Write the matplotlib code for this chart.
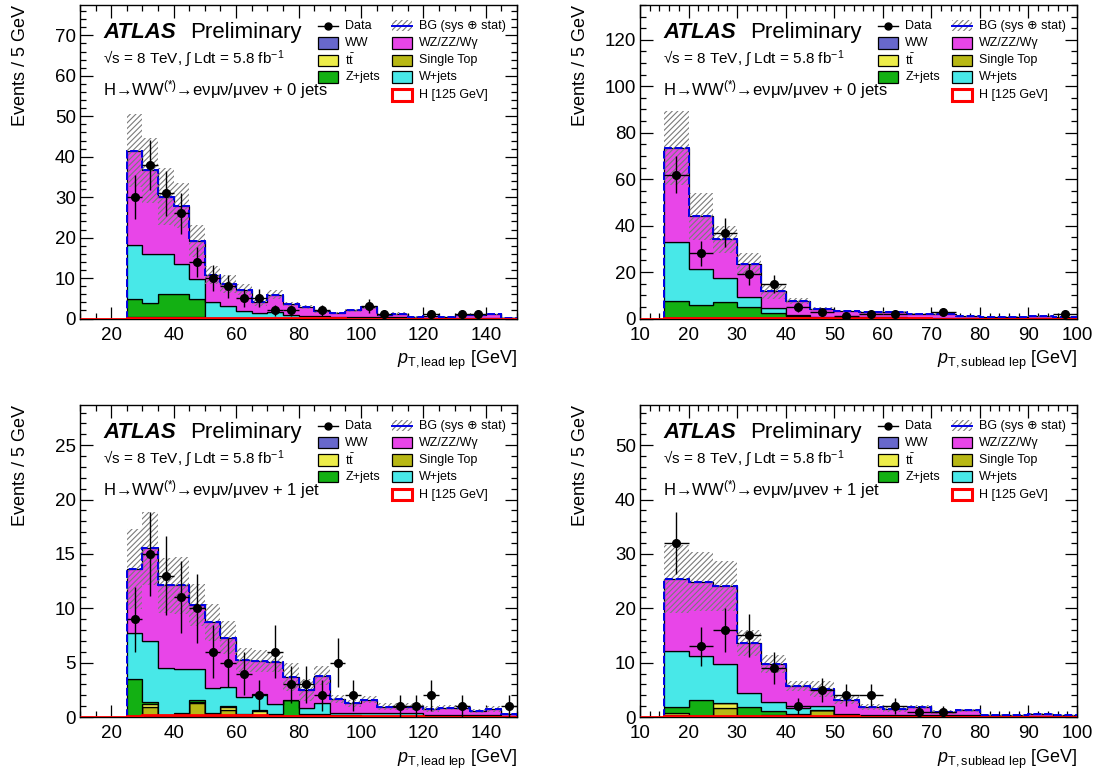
import matplotlib
matplotlib.use('Agg')
import matplotlib.pyplot as plt
import matplotlib.patches as mpatches
from matplotlib.ticker import MultipleLocator
import numpy as np

plt.rcParams['font.family'] = ['Liberation Sans', 'DejaVu Sans']
plt.rcParams['mathtext.fontset'] = 'custom'
plt.rcParams['mathtext.rm'] = 'Liberation Sans'
plt.rcParams['mathtext.it'] = 'Liberation Sans:italic'
plt.rcParams['mathtext.bf'] = 'Liberation Sans:bold'
plt.rcParams['hatch.linewidth'] = 0.8

C_WW = '#6868cc'
C_TT = '#eded4a'
C_ZJ = '#13b013'
C_ST = '#b8b815'
C_WJ = '#48e8e8'
C_WZ = '#e845e8'
C_H = '#ff0000'

# ---- binning (5 GeV) ----
edges_lead = np.arange(25, 155, 5)     # 25 bins, 25-150
edges_sub = np.arange(15, 105, 5)      # 17 bins, 15-100
hedges_lead = np.arange(10, 155, 5)    # signal drawn over full axis range
hedges_sub = np.arange(10, 105, 5)

# ---- panel 1: leading lepton pT, 0 jets ----
ww_1 = [0.1, 0.1, 0.1, 0.1, 0.1, 0.05, 0.05, 0.05, 0, 0, 0, 0, 0, 0, 0, 0, 0, 0, 0, 0, 0, 0, 0, 0, 0]
st_1 = [0.05, 0.05, 0.05, 0.05, 0.05, 0, 0, 0, 0, 0, 0, 0, 0, 0, 0, 0, 0, 0, 0, 0, 0, 0, 0, 0, 0]
tt_1 = [0.1, 0.1, 0.1, 0.1, 0.1, 0.05, 0.05, 0.05, 0.05, 0.05, 0, 0, 0, 0, 0, 0, 0, 0, 0, 0, 0, 0, 0, 0, 0]
zj_1 = [4.5, 3.6, 5.8, 5.8, 4.6, 0.1, 0.05, 0.05, 0, 0.05, 0, 0, 0, 0, 0, 0, 0, 0, 0, 0, 0, 0, 0, 0, 0]
wj_1 = [13.45, 12.05, 10.0, 7.3, 5.0, 4.0, 2.9, 1.7, 1.3, 1.5, 0.9, 0.5, 0.5, 0.4, 0.4, 0.4, 0.3, 0.3, 0.2, 0.2, 0.2, 0.2, 0.2, 0.2, 0.05]
wz_1 = [23.3, 20.7, 14.1, 14.5, 9.3, 6.6, 5.4, 5.3, 2.8, 4.3, 2.7, 2.3, 1.3, 0.9, 1.6, 2.4, 0.6, 0.9, 0.1, 0.3, 0.2, 0.6, 0.6, 0.8, 0.05]
err_1 = [9, 8, 7, 5.6, 4, 2.2, 2.2, 1.4, 1.0, 1.2, 0.6, 0.5, 0.4, 0.3, 0.4, 0.4, 0.3, 0.3, 0.2, 0.2, 0.2, 0.2, 0.2, 0.2, 0.1]
data_1 = [30, 38, 31, 26, 14, 10, 8, 5, 5, 2, 2, 0, 2, 0, 0, 3, 1, 0, 0, 1, 0, 1, 1, 0, 0]
h_1 = [0, 0, 0, 0.15, 0.15, 0.15, 0.15, 0.15, 0.1, 0.1, 0.1, 0.05, 0.05, 0.05, 0.05, 0.05, 0.05, 0, 0, 0, 0, 0, 0, 0, 0, 0, 0, 0]

# ---- panel 2: subleading lepton pT, 0 jets ----
ww_2 = [0.1, 0.1, 0.1, 0.1, 0.05, 0.05, 0, 0, 0, 0, 0, 0, 0, 0, 0, 0, 0]
st_2 = [0.05, 0.05, 0.05, 0.05, 0.05, 0, 0, 0, 0, 0, 0, 0, 0, 0, 0, 0, 0]
tt_2 = [0.1, 0.1, 0.1, 0.1, 0.05, 0.05, 0.05, 0.05, 0, 0, 0, 0, 0, 0, 0, 0, 0]
zj_2 = [7.2, 5.5, 6.7, 4.6, 2.4, 0.8, 0.2, 0.1, 0.05, 0.05, 0.05, 0, 0, 0, 0, 0, 0]
wj_2 = [25.5, 15.4, 10.4, 4.6, 2.0, 0.4, 0.6, 0.4, 0.4, 0.4, 0.3, 0.3, 0.2, 0.2, 0.2, 0.2, 0.1]
wz_2 = [40.5, 22.8, 16.8, 14.1, 7.1, 6.2, 3.4, 2.7, 2.2, 2.4, 1.8, 1.8, 0.9, 0.6, 0.6, 0.7, 0.5]
err_2 = [16, 10, 5.8, 4.7, 3.1, 1.3, 0.8, 0.6, 0.5, 0.5, 0.4, 0.4, 0.3, 0.3, 0.3, 0.3, 0.2]
data_2 = [62, 28, 37, 19, 15, 5, 3, 1, 2, 2, 0, 3, 0, 0, 0, 0, 2]
h_2 = [0, 0.15, 0.15, 0.15, 0.15, 0.1, 0.1, 0.1, 0.05, 0.05, 0.05, 0.05, 0, 0, 0, 0, 0, 0]

# ---- panel 3: leading lepton pT, 1 jet ----
ww_3 = [0.05, 0.05, 0.05, 0.05, 0.05, 0.05, 0.05, 0.05, 0, 0, 0, 0, 0, 0, 0, 0, 0, 0, 0, 0, 0, 0, 0, 0, 0]
st_3 = [0.0, 0.85, 0.0, 0.1, 1.25, 0.05, 0.55, 0.0, 0.2, 0.0, 0.05, 0.0, 0.05, 0, 0, 0, 0, 0, 0, 0, 0, 0, 0, 0, 0]
tt_3 = [0.05, 0.3, 0.05, 0.15, 0.1, 0.2, 0.3, 0.15, 0.35, 0.15, 0.05, 0.15, 0.1, 0.1, 0.1, 0.05, 0.05, 0.05, 0.05, 0.05, 0.05, 0.05, 0.05, 0.05, 0]
zj_3 = [3.4, 0.2, 0.1, 0.1, 0.15, 0.1, 0.1, 0.1, 0.1, 0.1, 1.45, 0.1, 0.1, 0.05, 0.05, 0.05, 0.05, 0.05, 0.05, 0.05, 0.05, 0.05, 0.05, 0.05, 0]
wj_3 = [4.2, 5.56, 4.3, 4.0, 2.9, 2.3, 1.8, 1.5, 1.5, 0.95, 0.0, 0.55, 1.0, 0.2, 0.2, 0.25, 0.25, 0.25, 0.25, 0.1, 0.1, 0.1, 0.1, 0.1, 0.1]
wz_3 = [5.9, 8.54, 7.6, 7.7, 5.85, 6.0, 4.5, 3.45, 3.0, 3.85, 2.1, 1.65, 2.55, 1.3, 0.9, 1.25, 0.6, 0.6, 0.6, 0.55, 0.65, 0.65, 0.35, 0.55, 0.15]
err_3 = [3.7, 3.4, 2.5, 2.6, 1.9, 1.7, 1.5, 1.1, 1.0, 0.9, 1.3, 1.0, 0.85, 0.4, 0.3, 0.35, 0.3, 0.3, 0.3, 0.25, 0.25, 0.25, 0.2, 0.25, 0.1]
data_3 = [9, 15, 13, 11, 10, 6, 5, 4, 2, 6, 3, 3, 2, 5, 2, 0, 0, 1, 1, 2, 0, 1, 0, 0, 1]
h_3 = [0, 0, 0, 0.1, 0.15, 0.2, 0.2, 0.2, 0.2, 0.2, 0.15, 0.15, 0.1, 0.1, 0.1, 0.1, 0.05, 0.05, 0.05, 0.05, 0.05, 0.05, 0, 0, 0, 0, 0, 0]

# ---- panel 4: subleading lepton pT, 1 jet ----
ww_4 = [0.1, 0.05, 0.05, 0.05, 0.05, 0.05, 0.05, 0, 0, 0, 0, 0, 0, 0, 0, 0, 0]
st_4 = [0.2, 0.0, 1.6, 0.0, 0.3, 0.0, 1.15, 0.05, 0.05, 0, 0, 0, 0, 0, 0, 0, 0]
tt_4 = [0.5, 0.2, 1.0, 0.2, 0.05, 0.3, 0.1, 0.1, 0.1, 0.1, 0.1, 0.1, 0.05, 0.05, 0.05, 0.05, 0.05]
zj_4 = [1.1, 2.85, 0.0, 1.55, 0.7, 0.25, 0.0, 0.15, 0.15, 0.1, 0.1, 0.1, 0.05, 0.05, 0.05, 0.05, 0]
wj_4 = [10.3, 8.2, 7.15, 2.6, 1.6, 1.0, 0.7, 0.3, 0.1, 0.2, 0.2, 0.1, 0.2, 0.1, 0.1, 0.1, 0.05]
wz_4 = [13.2, 13.6, 14.25, 9.2, 7.05, 4.1, 3.1, 2.6, 1.4, 1.0, 1.4, 0.6, 0.9, 0.1, 0.2, 0.4, 0.2]
err_4 = [6.3, 5.4, 4.6, 2.4, 1.65, 0.9, 1.5, 0.8, 0.5, 0.4, 0.4, 0.3, 0.3, 0.2, 0.2, 0.2, 0.1]
data_4 = [32, 13, 16, 15, 9, 2, 5, 4, 4, 2, 1, 1, 0, 0, 0, 0, 0]
h_4 = [0, 0.25, 0.25, 0.2, 0.2, 0.15, 0.15, 0.1, 0.1, 0.05, 0.05, 0.05, 0.05, 0, 0, 0, 0, 0]


def draw_panel(ax, edges, hedges, comps, err, data, higgs):
    base = np.zeros(len(edges) - 1)
    for vals, col in comps:
        top = base + np.asarray(vals, float)
        ax.stairs(top, edges, baseline=base, fill=True, facecolor=col,
                  edgecolor='black', lw=0.9, zorder=2)
        base = top
    total = base
    err = np.asarray(err, float)
    ax.stairs(total + err, edges, baseline=np.clip(total - err, 0, None), fill=True,
              facecolor='none', edgecolor='#7a7a7a', hatch='//////', lw=0, zorder=3)
    ax.stairs(total, edges, color='#0000e6', lw=1.4, ls=(0, (4, 1.5)), zorder=4)
    ax.stairs(higgs, hedges, color=C_H, lw=2.0, zorder=5)
    centers = 0.5 * (edges[:-1] + edges[1:])
    d = np.asarray(data, float)
    m = d > 0
    ax.errorbar(centers[m], d[m], yerr=np.sqrt(d[m]), xerr=2.5, fmt='o',
                color='black', ms=5.5, elinewidth=1.0, capsize=0, zorder=6)


def style_axes(ax, xlim, ylim, xmaj, xmin, ymaj, ymin, xlabel, jets):
    ax.set_xlim(*xlim)
    ax.set_ylim(*ylim)
    ax.xaxis.set_major_locator(MultipleLocator(xmaj))
    ax.xaxis.set_minor_locator(MultipleLocator(xmin))
    ax.yaxis.set_major_locator(MultipleLocator(ymaj))
    ax.yaxis.set_minor_locator(MultipleLocator(ymin))
    ax.tick_params(which='both', direction='in', top=True, right=True,
                   labelsize=13.5, width=0.9)
    ax.tick_params(which='major', length=9)
    ax.tick_params(which='minor', length=4.5)
    ax.tick_params(axis='x', pad=6)
    ax.tick_params(axis='y', pad=3)
    for s in ax.spines.values():
        s.set_linewidth(1.0)
    tr = ax.transAxes
    ax.text(-0.137, 1.0, 'Events / 5 GeV', rotation=90, ha='center', va='top',
            fontsize=13, transform=tr)
    ax.text(1.0, -0.135, xlabel, ha='right', va='center', fontsize=13, transform=tr)
    ax.text(0.053, 0.911, 'ATLAS', fontsize=16, weight='bold', style='italic',
            va='center', transform=tr)
    ax.text(0.252, 0.911, 'Preliminary', fontsize=16, va='center', transform=tr)
    ax.text(0.053, 0.828, '√s = 8 TeV, ∫ Ldt = 5.8 fb$^{-1}$', fontsize=11,
            va='center', transform=tr)
    ax.text(0.053, 0.729, 'H→WW$^{(*)}$→eνμν/μνeν + ' + jets, fontsize=12,
            va='center', transform=tr)

    # legend, two columns
    bw, bh = 0.046, 0.036
    x1, x2 = 0.545, 0.714
    rows = [0.934, 0.879, 0.824, 0.770, 0.713]
    # Data
    ax.plot([x1, x1 + bw], [rows[0], rows[0]], color='black', lw=1, transform=tr)
    ax.plot([x1 + bw / 2], [rows[0]], 'o', color='black', ms=5, transform=tr)
    ax.text(x1 + bw + 0.016, rows[0], 'Data', fontsize=9, va='center', transform=tr)
    boxes = [(x1, rows[1], C_WW, 'WW'), (x1, rows[2], C_TT, r't$\bar{\rm t}$'),
             (x1, rows[3], C_ZJ, 'Z+jets'), (x2, rows[1], C_WZ, 'WZ/ZZ/Wγ'),
             (x2, rows[2], C_ST, 'Single Top'), (x2, rows[3], C_WJ, 'W+jets')]
    for bx, by, col, lab in boxes:
        ax.add_patch(mpatches.Rectangle((bx, by - bh / 2), bw, bh, facecolor=col,
                                        edgecolor='black', lw=0.9, transform=tr))
        ax.text(bx + bw + 0.016, by, lab, fontsize=9, va='center', transform=tr)
    ax.add_patch(mpatches.Rectangle((x2, rows[0] - bh / 2), bw, bh, facecolor='none',
                                    edgecolor='#7a7a7a', hatch='//////', lw=0, transform=tr))
    ax.plot([x2, x2 + bw], [rows[0], rows[0]], color='#0000e6', lw=1.4, transform=tr)
    ax.text(x2 + bw + 0.016, rows[0], 'BG (sys ⊕ stat)', fontsize=9, va='center',
            transform=tr)
    ax.add_patch(mpatches.Rectangle((x2, rows[4] - bh / 2), bw, bh, facecolor='white',
                                    edgecolor=C_H, lw=2.2, transform=tr))
    ax.text(x2 + bw + 0.016, rows[4], 'H [125 GeV]', fontsize=9, va='center',
            transform=tr)


fig = plt.figure(figsize=(10.98, 7.78), dpi=100)
fig.patch.set_facecolor('white')
W, H = 1098.0, 778.0
ax1 = fig.add_axes([80 / W, 1 - 318.5 / H, 437 / W, 313.5 / H])
ax2 = fig.add_axes([640 / W, 1 - 318.5 / H, 437 / W, 313.5 / H])
ax3 = fig.add_axes([80 / W, 1 - 717 / H, 437 / W, 312 / H])
ax4 = fig.add_axes([640 / W, 1 - 717 / H, 437 / W, 312 / H])

lead_lab = r'$p_{\rm T,lead\ lep}$ [GeV]'
sub_lab = r'$p_{\rm T,sublead\ lep}$ [GeV]'

draw_panel(ax1, edges_lead, hedges_lead,
           [(ww_1, C_WW), (st_1, C_ST), (tt_1, C_TT), (zj_1, C_ZJ), (wj_1, C_WJ), (wz_1, C_WZ)],
           err_1, data_1, h_1)
style_axes(ax1, (10, 150), (0, 77.5), 20, 5, 10, 2, lead_lab, '0 jets')

draw_panel(ax2, edges_sub, hedges_sub,
           [(ww_2, C_WW), (st_2, C_ST), (tt_2, C_TT), (zj_2, C_ZJ), (wj_2, C_WJ), (wz_2, C_WZ)],
           err_2, data_2, h_2)
style_axes(ax2, (10, 100), (0, 135), 10, 2, 20, 5, sub_lab, '0 jets')

draw_panel(ax3, edges_lead, hedges_lead,
           [(ww_3, C_WW), (st_3, C_ST), (tt_3, C_TT), (zj_3, C_ZJ), (wj_3, C_WJ), (wz_3, C_WZ)],
           err_3, data_3, h_3)
style_axes(ax3, (10, 150), (0, 28.7), 20, 5, 5, 1, lead_lab, '1 jet')

draw_panel(ax4, edges_sub, hedges_sub,
           [(ww_4, C_WW), (st_4, C_ST), (tt_4, C_TT), (zj_4, C_ZJ), (wj_4, C_WJ), (wz_4, C_WZ)],
           err_4, data_4, h_4)
style_axes(ax4, (10, 100), (0, 57.4), 10, 2, 10, 2, sub_lab, '1 jet')

fig.savefig('out.png', dpi=100, facecolor='white')
